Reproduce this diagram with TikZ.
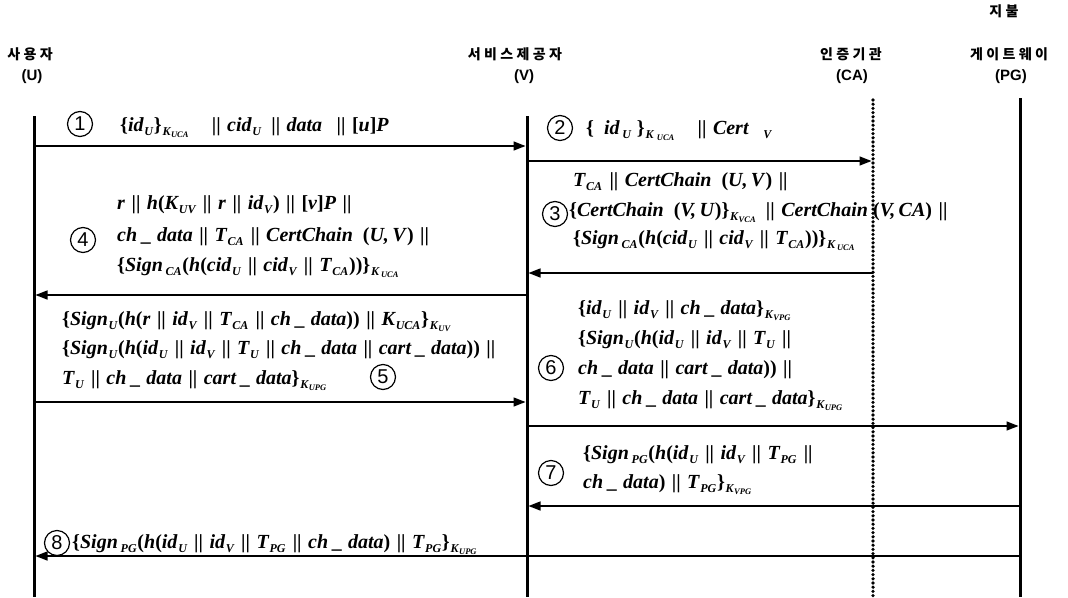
\documentclass[tikz,border=0pt]{standalone}
\usepackage{fontspec}
\setmainfont{Liberation Serif}
\newfontfamily\krfont{Noto Sans CJK KR}
\newfontfamily\hdfont{Liberation Sans}
\usetikzlibrary{arrows.meta}

% message notation helpers (text-mode formulas)
\newcommand\up[1]{\textup{#1}}
\newcommand\dn[1]{\kern0.8pt\raisebox{-4pt}{\fontsize{12}{12}\selectfont #1}\kern0.8pt}
\newcommand\dnK[1]{\dn{K\kern0.5pt\raisebox{-2pt}{\fontsize{8.5}{8.5}\selectfont #1}}}
\newcommand\OR{\hspace{6.5pt}\up{||}\hspace{6.5pt}}
\newcommand\ORe{\hspace{6.5pt}\up{||}}
\newcommand\LP{\up{(}}
\newcommand\RP{\up{)}}
\newcommand\LB{\up{\{}}
\newcommand\RB{\up{\}}}
\newcommand\LS{\up{[}}
\newcommand\RS{\up{]}}
\newcommand\gp{\hspace{0.24em}}

\tikzset{
  life/.style={line width=3pt},
  cadots/.style={line width=3.6pt, line cap=round, dash pattern=on 0pt off 4.2pt},
  msg/.style={line width=1.4pt, -{Triangle[length=12pt,width=9pt]}, shorten >=1.5pt},
  num/.style={circle, draw, line width=1.2pt, minimum size=25pt, inner sep=0pt,
    font=\hdfont\fontsize{20}{20}\selectfont},
  fml/.style={anchor=base west, inner sep=0pt, font=\fontsize{20}{24}\selectfont\bfseries\itshape},
  hd/.style={inner sep=0pt, font=\krfont\bfseries\fontsize{14}{16}\selectfont},
  tag/.style={inner sep=0pt, font=\hdfont\bfseries\fontsize{15}{17}\selectfont},
}

\begin{document}
\begin{tikzpicture}[x=1pt, y=-1pt]
\useasboundingbox[fill=white] (0,0) rectangle (1068,597);

% participants
\node[hd]  (hU)  at (30,54)   {사\gp 용\gp 자};
\node[tag] (tU)  at (32,77)   {(U)};
\node[hd]  (hV)  at (515,54)  {서\gp 비\gp 스\gp 제\gp 공\gp 자};
\node[tag] (tV)  at (524,77)  {(V)};
\node[hd]  (hCA) at (851,54)  {인\gp 증\gp 기\gp 관};
\node[tag] (tCA) at (852,77)  {(CA)};
\node[hd]  (hPG0) at (1004,11) {지\gp 불};
\node[hd]  (hPG) at (1009,54) {게\gp 이\gp 트\gp 웨\gp 이};
\node[tag] (tPG) at (1011,77) {(PG)};

% lifelines
\coordinate (Ut) at (34,116);   \coordinate (Ub) at (34,597);
\coordinate (Vt) at (527,116);  \coordinate (Vb) at (527,597);
\coordinate (Ct) at (873,100);  \coordinate (Cb) at (873,597);
\coordinate (Pt) at (1020,98);  \coordinate (Pb) at (1020,597);
\draw[life] (Ut) -- (Ub);
\draw[life] (Vt) -- (Vb);
\draw[cadots] (Ct) -- (Cb);
\draw[life] (Pt) -- (Pb);

% message end points
\coordinate (U1) at (34,146);  \coordinate (V1) at (527,146);
\coordinate (V2) at (527,161); \coordinate (C2) at (873,161);
\coordinate (C3) at (873,273); \coordinate (V3) at (527,273);
\coordinate (V4) at (527,295); \coordinate (U4) at (34,295);
\coordinate (U5) at (34,402);  \coordinate (V5) at (527,402);
\coordinate (V6) at (527,426); \coordinate (P6) at (1020,426);
\coordinate (P7) at (1020,506);\coordinate (V7) at (527,506);
\coordinate (P8) at (1020,556);\coordinate (U8) at (34,556);

\draw[msg] (U1) -- (V1);
\draw[msg] (V2) -- (C2);
\draw[msg] (C3) -- (V3);
\draw[msg] (V4) -- (U4);
\draw[msg] (U5) -- (V5);
\draw[msg] (V6) -- (P6);
\draw[msg] (P7) -- (V7);
\draw[msg] (P8) -- (U8);

% step 1
\node[num] (n1) at (80,124) {1};
\node[fml] (m1) at (120,131) {\LB id\dn{U}\RB\dnK{UCA}\hspace{16pt}\OR cid\dn{U}\hspace{3pt}\OR data\hspace{8pt}\OR\LS u\RS P};

% step 2
\node[num] (n2) at (560,128) {2};
\node[fml] (m2) at (586,134) {\LB\ \ id\dn{\,U}\ \RB\dnK{\,\,UCA}\hspace{16pt}\OR Cert\dn{\hspace{14pt}V}};

% step 3
\node[num] (n3) at (555,214) {3};
\node[fml] (m3a) at (573,186) {T\dn{CA}\OR CertChain\ \ \LP U,\,V\RP\ORe};
\node[fml] (m3b) at (569,216) {\LB CertChain\ \ \LP V,\,U\RP\RB\dnK{VCA}\hspace{3pt}\OR CertChain\ \LP V,\,CA\RP\ORe};
\node[fml] (m3c) at (573,244) {\LB Sign\dn{\,CA}\LP h\LP cid\dn{U}\OR cid\dn{V}\OR T\dn{CA}\RP\RP\RB\dnK{\,UCA}};

% step 4
\node[num] (n4) at (83,240) {4};
\node[fml] (m4a) at (117,209) {r\OR h\LP K\dn{UV}\OR r\OR id\dn{V}\RP\OR\LS v\RS P\ORe};
\node[fml] (m4b) at (117,241) {ch \_ data\OR T\dn{CA}\OR CertChain\ \ \LP U,\,V\RP\ORe};
\node[fml] (m4c) at (117,271) {\LB Sign\dn{\,CA}\LP h\LP cid\dn{U}\OR cid\dn{V}\OR T\dn{CA}\RP\RP\RB\dnK{\,UCA}};

% step 5
\node[fml] (m5a) at (62,325) {\LB Sign\dn{U}\LP h\LP r\OR id\dn{V}\OR T\dn{CA}\OR ch \_ data\RP\RP\OR K\dn{UCA}\RB\dnK{UV}};
\node[fml] (m5b) at (62,354) {\LB Sign\dn{U}\LP h\LP id\dn{U}\OR id\dn{V}\OR T\dn{U}\OR ch \_ data\OR cart \_ data\RP\RP\ORe};
\node[fml] (m5c) at (62,384) {T\dn{U}\OR ch \_ data\OR cart \_ data\RB\dnK{UPG}};
\node[num] (n5) at (383,377) {5};

% step 6
\node[num] (n6) at (551,368) {6};
\node[fml] (m6a) at (578,314) {\LB id\dn{U}\OR id\dn{V}\OR ch \_ data\RB\dnK{VPG}};
\node[fml] (m6b) at (578,344) {\LB Sign\dn{U}\LP h\LP id\dn{U}\OR id\dn{V}\OR T\dn{U}\ORe};
\node[fml] (m6c) at (578,374) {ch \_ data\OR cart \_ data\RP\RP\ORe};
\node[fml] (m6d) at (578,404) {T\dn{U}\OR ch \_ data\OR cart \_ data\RB\dnK{UPG}};

% step 7
\node[num] (n7) at (551,473) {7};
\node[fml] (m7a) at (583,459) {\LB Sign\dn{\,PG}\LP h\LP id\dn{U}\OR id\dn{V}\OR T\dn{PG}\ORe};
\node[fml] (m7b) at (583,488) {ch \_ data\RP\OR T\dn{PG}\RB\dnK{VPG}};

% step 8
\node[num] (n8) at (57,543) {8};
\node[fml] (m8) at (72,548) {\LB Sign\dn{\,PG}\LP h\LP id\dn{U}\OR id\dn{V}\OR T\dn{PG}\OR ch \_ data\RP\OR T\dn{PG}\RB\dnK{UPG}};
\end{tikzpicture}
\end{document}
